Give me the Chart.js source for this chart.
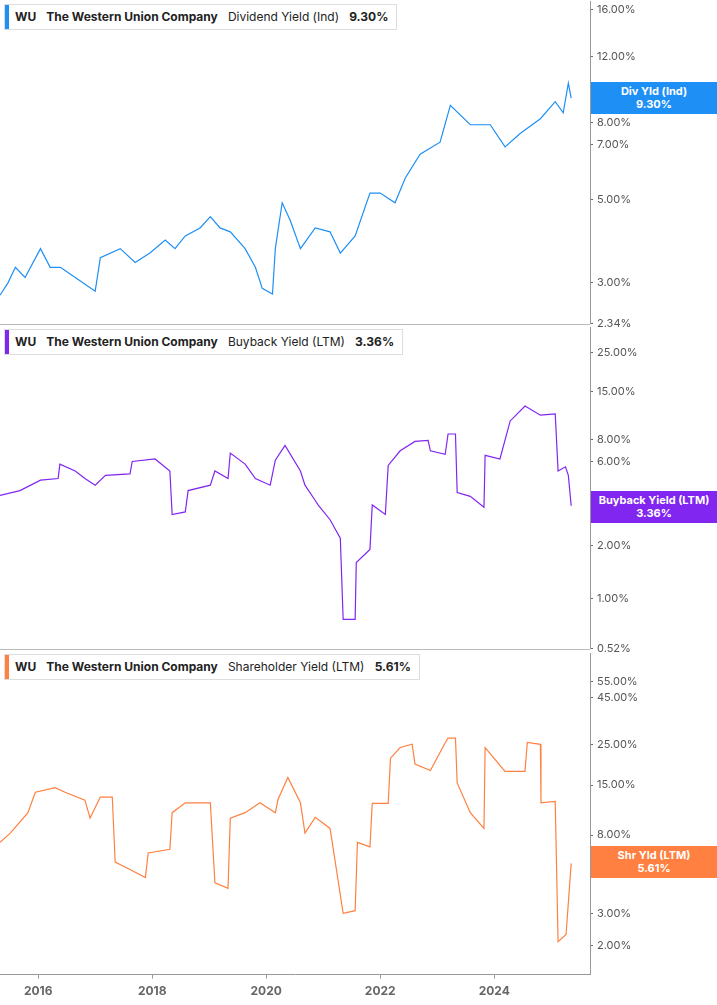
<!DOCTYPE html>
<html><head><meta charset="utf-8">
<script src="https://cdn.jsdelivr.net/npm/chart.js@4"></script>
<style>
body{margin:0;width:717px;height:1005px;position:relative;background:#fff;font-family:Inter,"Open Sans",sans-serif;overflow:hidden}
.c{position:absolute;left:0;width:717px}
.leg{position:absolute;left:4px;background:#fff;border:1px solid #ddd;font-size:12px;color:#222;height:24px;line-height:24px;padding:0 8px 0 10px;white-space:nowrap}
.leg .bar{position:absolute;left:0;top:0;width:4px;height:24px}
.leg b{font-weight:700}
.tag{position:absolute;left:591px;width:126px;color:#fff;font-size:11px;font-weight:700;text-align:center;line-height:13px;padding:3px 0}
.sep{position:absolute;left:0;width:590px;height:1px;background:#bbb}
</style></head><body>
<div class="c" style="top:-9px;height:343px"><canvas id="c1"></canvas></div>
<div class="c" style="top:317px;height:342px"><canvas id="c2"></canvas></div>
<div class="c" style="top:643px;height:362px"><canvas id="c3"></canvas></div>
<div class="sep" style="top:324px"></div><div class="sep" style="top:649px"></div>
<div class="leg" style="top:4px"><span class="bar" style="background:#1e8ff5"></span><b>WU</b>&nbsp;&nbsp;&nbsp;<b>The Western Union Company</b>&nbsp;&nbsp;&nbsp;Dividend Yield (Ind)&nbsp;&nbsp;&nbsp;<b>9.30%</b></div>
<div class="leg" style="top:329px"><span class="bar" style="background:#8125f0"></span><b>WU</b>&nbsp;&nbsp;&nbsp;<b>The Western Union Company</b>&nbsp;&nbsp;&nbsp;Buyback Yield (LTM)&nbsp;&nbsp;&nbsp;<b>3.36%</b></div>
<div class="leg" style="top:654px"><span class="bar" style="background:#ff8040"></span><b>WU</b>&nbsp;&nbsp;&nbsp;<b>The Western Union Company</b>&nbsp;&nbsp;&nbsp;Shareholder Yield (LTM)&nbsp;&nbsp;&nbsp;<b>5.61%</b></div>
<div class="tag" style="top:82px;background:#1e8ff5">Div Yld (Ind)<br>9.30%</div>
<div class="tag" style="top:491px;background:#8125f0">Buyback Yield (LTM)<br>3.36%</div>
<div class="tag" style="top:846px;background:#ff8040">Shr Yld (LTM)<br>5.61%</div>
<script>
const divDates=[2015.33,2015.47,2015.60,2015.77,2016.04,2016.21,2016.39,2016.65,2017.00,2017.09,2017.44,2017.70,2017.96,2018.23,2018.40,2018.58,2018.84,2019.02,2019.19,2019.37,2019.63,2019.81,2019.93,2020.11,2020.16,2020.28,2020.42,2020.60,2020.86,2021.12,2021.30,2021.56,2021.82,2022.00,2022.26,2022.44,2022.70,2023.05,2023.23,2023.58,2023.93,2024.19,2024.46,2024.81,2025.07,2025.21,2025.30,2025.35];
const divVals=[2.78,3.0,3.3,3.1,3.7,3.3,3.3,3.1,2.85,3.5,3.7,3.4,3.6,3.9,3.7,4.0,4.2,4.5,4.2,4.1,3.7,3.3,2.9,2.8,3.7,4.9,4.4,3.7,4.2,4.1,3.6,4.0,5.2,5.2,4.9,5.7,6.6,7.1,8.9,7.9,7.9,6.9,7.5,8.2,9.1,8.5,10.2,9.3];
const bbDates=[2015.33,2015.68,2016.04,2016.35,2016.38,2016.65,2016.82,2017.0,2017.18,2017.61,2017.65,2018.05,2018.31,2018.35,2018.58,2018.63,2019.02,2019.1,2019.33,2019.37,2019.63,2019.81,2020.07,2020.16,2020.33,2020.6,2020.68,2020.86,2020.91,2021.12,2021.3,2021.35,2021.56,2021.58,2021.82,2021.86,2022.09,2022.14,2022.35,2022.61,2022.84,2022.88,2023.14,2023.19,2023.32,2023.35,2023.58,2023.82,2023.84,2024.1,2024.28,2024.54,2024.81,2025.07,2025.12,2025.25,2025.30,2025.35];
const bbVals=[3.85,4.1,4.7,4.8,5.8,5.3,4.8,4.4,5.0,5.1,6.0,6.2,5.3,3.0,3.1,4.1,4.4,5.3,4.8,6.7,5.8,4.8,4.4,6.1,7.4,5.3,4.4,3.6,3.4,2.8,2.2,0.76,0.76,1.6,1.9,3.4,3.0,5.7,6.9,7.8,7.9,6.9,6.6,8.6,8.6,4.0,3.8,3.3,6.5,6.2,10.2,12.4,11,11.2,5.3,5.6,5.0,3.36];
const shDates=[2015.33,2015.51,2015.82,2015.95,2016.3,2016.47,2016.82,2016.91,2017.09,2017.3,2017.35,2017.61,2017.88,2017.93,2018.31,2018.35,2018.58,2019.02,2019.1,2019.33,2019.37,2019.63,2019.89,2020.16,2020.21,2020.38,2020.6,2020.68,2020.86,2021.12,2021.35,2021.56,2021.6,2021.82,2021.86,2022.14,2022.18,2022.35,2022.56,2022.61,2022.88,2023.14,2023.19,2023.32,2023.35,2023.58,2023.82,2023.84,2024.19,2024.54,2024.58,2024.81,2024.82,2025.07,2025.12,2025.26,2025.35];
const shVals=[7.3,8.2,10.6,13.7,14.5,13.7,12.4,9.9,12.9,12.9,5.7,5.2,4.7,6.4,6.7,10.6,12,12,4.4,4.1,9.9,10.6,12,10.6,12.6,16.5,12,8.2,10,8.7,3.0,3.1,7.3,6.9,11.9,11.9,21,24,25,19.5,18,25.5,27,27,15.4,10.6,8.7,24,17.8,17.8,25.6,25,12,12.2,2.1,2.3,5.61];
const divTicks=[2.34,3,5,7,8,12,16];
const bbTicks=[0.52,1,2,6,8,15,25];
const shTicks=[2,3,6,8,15,25,45,55];
const xTicks=[2016,2018,2020,2022,2024];

function mk(id,dates,vals,color,ticks,min,max,showX){
  new Chart(document.getElementById(id),{
    type:'line',
    data:{datasets:[{data:dates.map((d,i)=>({x:d,y:vals[i]})),borderColor:color,borderWidth:1.2,pointRadius:0,tension:0}]},
    options:{responsive:true,maintainAspectRatio:false,animation:false,
      layout:{padding:0},
      plugins:{legend:{display:false},tooltip:{enabled:false}},
      scales:{
        x:{type:'linear',min:2015.33,max:2025.68,display:showX,
          afterBuildTicks:s=>{s.ticks=xTicks.map(v=>({value:v}));},
          ticks:{callback:v=>String(v),color:'#666',font:{size:12,weight:'bold',family:'Inter'},padding:6},
          grid:{drawOnChartArea:false,color:'#999',tickLength:4},border:{color:'#999'}},
        y:{type:'logarithmic',position:'right',min:min,max:max,
          afterFit:s=>{s.width=127;},
          afterBuildTicks:s=>{s.ticks=ticks.map(v=>({value:v}));},
          ticks:{callback:v=>Number(v).toFixed(2)+'%',color:'#555',font:{size:11,family:'Inter'},padding:4},
          grid:{drawOnChartArea:false,color:'#666',tickLength:3},border:{color:'#999'}}
      }}
  });
}
mk('c1',divDates,divVals,'#1e8ff5',divTicks,2.34,16.8,false);
mk('c2',bbDates,bbVals,'#8125f0',bbTicks,0.52,34.6,false);
mk('c3',shDates,shVals,'#ff8040',shTicks,1.39,78,true);
</script></body></html>
